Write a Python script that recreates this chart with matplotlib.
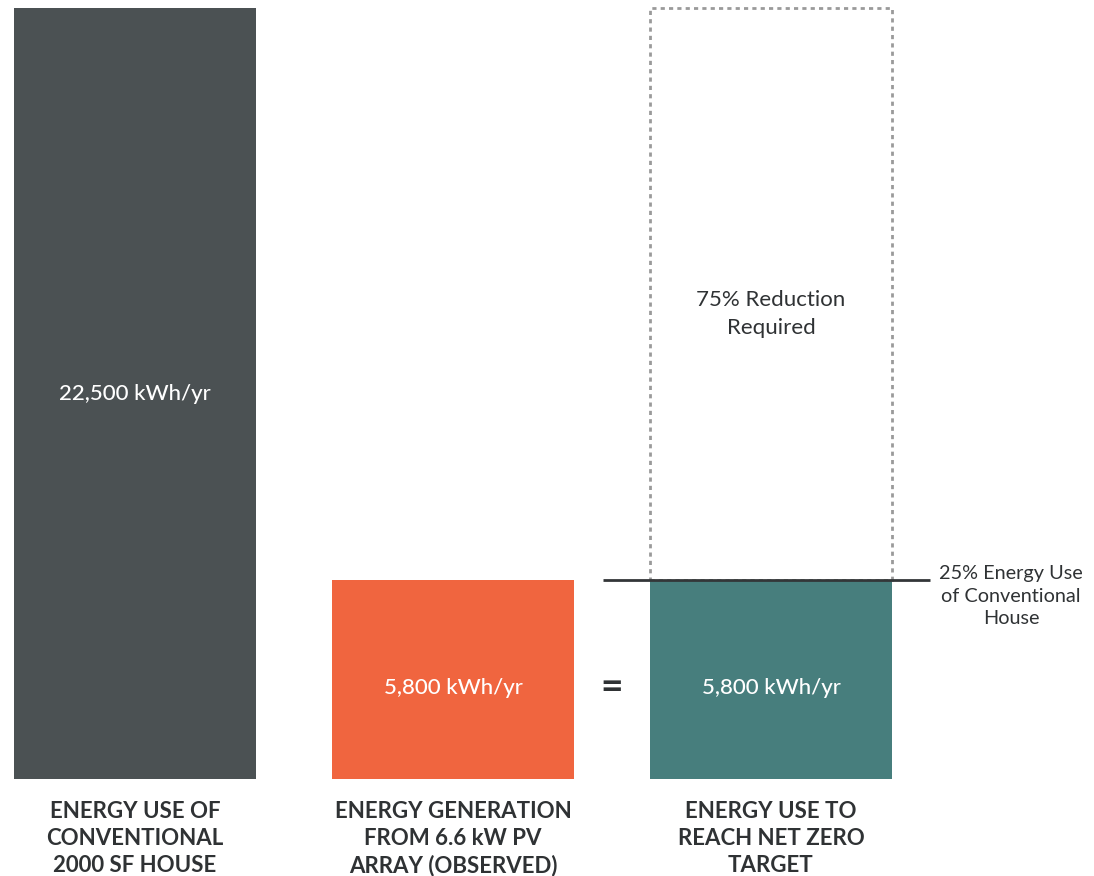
import matplotlib
matplotlib.use("Agg")
import matplotlib.pyplot as plt
from matplotlib.patches import Rectangle

plt.rcParams['font.family'] = ['Lato', 'DejaVu Sans']

# Data
categories = [
    "ENERGY USE OF\nCONVENTIONAL\n2000 SF HOUSE",
    "ENERGY GENERATION\nFROM 6.6 kW PV\nARRAY (OBSERVED)",
    "ENERGY USE TO\nREACH NET ZERO\nTARGET",
]
values = [22500, 5800, 5800]
value_labels = ["22,500 kWh/yr", "5,800 kWh/yr", "5,800 kWh/yr"]
bar_colors = ["#4b5153", "#f0653f", "#477e7d"]
conventional_use = 22500
reduction_text = "75% Reduction\nRequired"
target_text = "25% Energy Use\nof Conventional\nHouse"

TEXT = "#2f3234"

fig = plt.figure(figsize=(10.94, 8.76), dpi=100)
ax = fig.add_axes([0, 97 / 876, 1, 771 / 876])
ax.set_xlim(-135 / 318, 2 + (1094 - 771) / 318)
ax.set_ylim(0, conventional_use)
ax.axis("off")


def yfrac(frac):
    """Vertical position as a fraction of the axis height (0 = baseline)."""
    return conventional_use * frac


x = list(range(len(categories)))
width = 242 / 318
ax.bar(x, values, width=width, color=bar_colors, zorder=2)

# value labels inside bars
for xi, v, lab in zip(x, values, value_labels):
    ypos = yfrac(0.5) if xi == 0 else v * 0.46
    ax.text(xi, ypos, lab, color="white", fontsize=16, ha="center", va="center",
            fontweight="medium", zorder=3)

# dotted outline of the conventional house use above the net-zero target
box = Rectangle((2 - width / 2, values[2]), width, conventional_use - values[2],
                fill=False, edgecolor="#9a9a9a", linestyle=(0, (1.5, 1.5)), linewidth=2,
                zorder=1, clip_on=False)
ax.add_patch(box)
ax.text(2, yfrac(0.603), reduction_text, color=TEXT,
        fontsize=16, ha="center", va="center", linespacing=1.5)

# target line
ax.plot([(603 - 135) / 318, (930 - 135) / 318], [values[2], values[2]],
        color="#333638", linewidth=2, zorder=4, solid_capstyle="butt")
ax.text((1011 - 135) / 318, yfrac(0.237), target_text, color=TEXT,
        fontsize=14.3, ha="center", va="center", linespacing=1.4)

# equals sign
ax.text((612 - 135) / 318, values[1] * 0.46, "=", color=TEXT, fontsize=28,
        fontweight="bold", ha="center", va="center")

# category labels under bars, one line at a time
for xi, cat in zip(x, categories):
    for i, line in enumerate(cat.split("\n")):
        ax.text(xi, yfrac(-(32 + 27.5 * i) / 771), line, color=TEXT, fontsize=16,
                fontweight="bold", ha="center", va="center", clip_on=False)

fig.savefig("out.png", dpi=100, facecolor="white")
